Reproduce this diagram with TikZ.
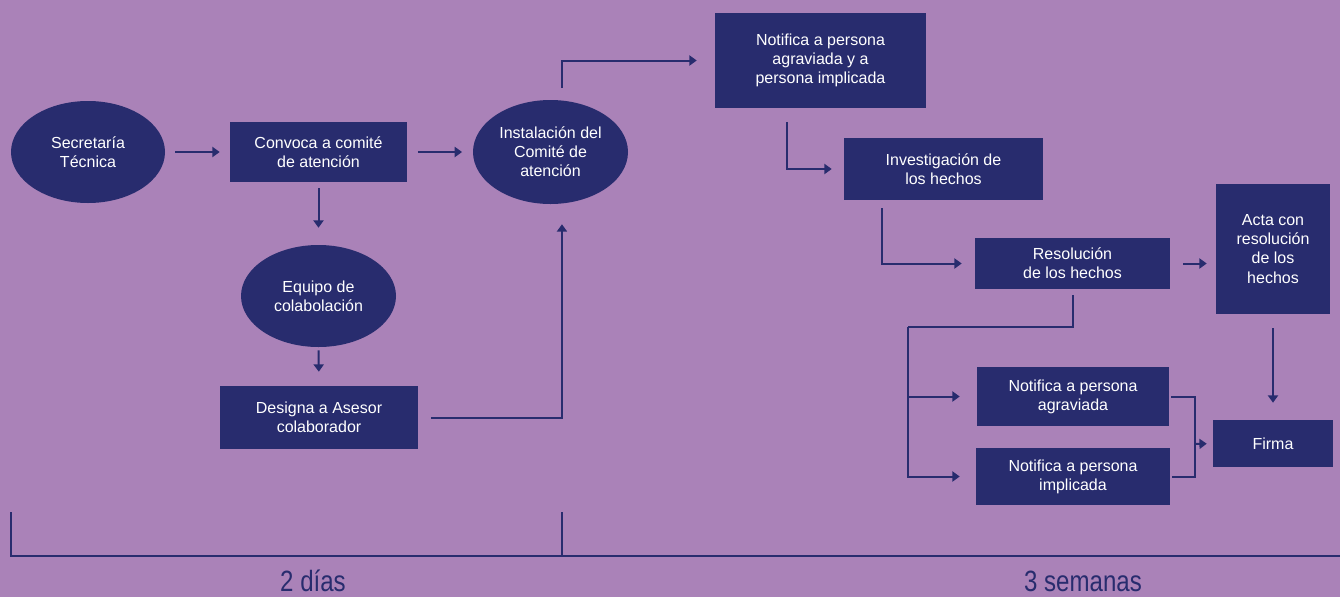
\documentclass[tikz,border=0pt]{standalone}
\usepackage{fontspec}
\setmainfont{Liberation Sans}
\newfontfamily\condfont[FakeStretch=0.82]{Liberation Sans}
\usetikzlibrary{arrows.meta,shapes.geometric}
\definecolor{bgpurple}{RGB}{170,130,184}
\definecolor{navy}{RGB}{40,44,110}
\tikzset{
  box/.style={fill=navy, text=white, align=center, inner sep=0pt, font=\fontsize{12}{14.3}\selectfont},
  oval/.style={ellipse, fill=navy, text=white, align=center, inner sep=0pt, font=\fontsize{12}{14.3}\selectfont},
  link/.style={draw=navy, line width=1.5pt},
  arr/.style={link, -{Triangle[length=5.5pt,width=7.5pt]}},
  timeline/.style={draw=navy, line width=1.3pt},
  span/.style={text=navy, font=\condfont\fontsize{22}{26}\selectfont}
}
\begin{document}
\begin{tikzpicture}[x=0.75pt, y=-0.75pt]
\useasboundingbox (0,0) rectangle (1340,597);
\fill[bgpurple] (0,0) rectangle (1340,597);

% nodes
\node[oval, minimum width=115.5pt, minimum height=76.5pt] (sec) at (88,152) {Secretaría\\Técnica};
\node[box, minimum width=132.75pt, minimum height=45pt] (conv) at (318.5,152) {Convoca a comité\\de atención};
\node[oval, minimum width=116.25pt, minimum height=78pt] (inst) at (550.5,152) {Instalación del\\Comité de\\atención};
\node[oval, minimum width=116.25pt, minimum height=76.5pt] (equ) at (318.5,296) {Equipo de\\colabolación};
\node[box, minimum width=148.5pt, minimum height=47.25pt] (des) at (319,417.5) {Designa a Asesor\\colaborador};
\node[box, minimum width=158.25pt, minimum height=71.25pt] (ntop) at (820.5,60.5) {Notifica a persona\\agraviada y a\\persona implicada};
\node[box, minimum width=149.25pt, minimum height=46.5pt] (inv) at (943.5,169) {Investigación de\\los hechos};
\node[box, minimum width=146.25pt, minimum height=38.25pt] (res) at (1072.5,263.5) {Resolución\\de los hechos};
\node[box, minimum width=85.5pt, minimum height=97.5pt] (acta) at (1273,249) {Acta con\\resolución\\de los\\hechos};
\node[box, minimum width=90pt, minimum height=35.25pt] (firma) at (1273,443.5) {Firma};
\node[box, minimum width=144pt, minimum height=44.25pt] (agr) at (1073,396.5) {Notifica a persona\\agraviada};
\node[box, minimum width=145.5pt, minimum height=42.75pt] (imp) at (1073,476.5) {Notifica a persona\\implicada};

\coordinate (bus) at (908,327);
\coordinate (join) at (1195,444);

% connectors
\draw[arr, shorten <=7.5pt, shorten >=7.5pt] (sec) -- (conv);
\draw[arr, shorten <=8pt, shorten >=8pt] (conv) -- (inst);
\draw[arr, shorten <=4.5pt, shorten >=12.75pt] (conv.south) -- (equ.north);
\draw[arr, shorten <=2.25pt, shorten >=10.5pt] (equ.south) -- (des.north);
\draw[arr, shorten <=9.75pt, shorten >=15pt] (des.east) -| ([xshift=8.6pt]inst.south);
\draw[arr, shorten <=9pt, shorten >=13.5pt] ([xshift=8.6pt]inst.north) |- (ntop.west);
\draw[arr, shorten <=10.5pt, shorten >=9pt] ([xshift=-25.1pt]ntop.south) |- (inv.west);
\draw[arr, shorten <=6pt, shorten >=9.75pt] ([xshift=-46.1pt]inv.south) |- (res.west);
\draw[arr, shorten <=9.75pt, shorten >=6.75pt] (res.east) -- (res.east -| acta.west);
\draw[arr, shorten <=10.5pt, shorten >=12.75pt] (acta.south) -- (firma.north);
\draw[link, shorten <=4.5pt] (res.south) |- (bus);
\draw[arr, shorten >=12.75pt] (bus) |- (agr.west);
\draw[arr, shorten >=12pt] (bus) |- (imp.west);
\draw[link, shorten <=1.5pt] (agr.east) -| (join);
\draw[link, shorten <=1.5pt] (imp.east) -| (join);
\draw[arr, shorten >=4.5pt] (join) -- (firma.west);

% timeline
\draw[timeline] (11,512) -- (11,556) -- (1340,556);
\draw[timeline] (562,512) -- (562,556);
\node[span] (d2) at (313,581) {2 días};
\node[span] (s3) at (1083,581) {3 semanas};
\end{tikzpicture}
\end{document}
